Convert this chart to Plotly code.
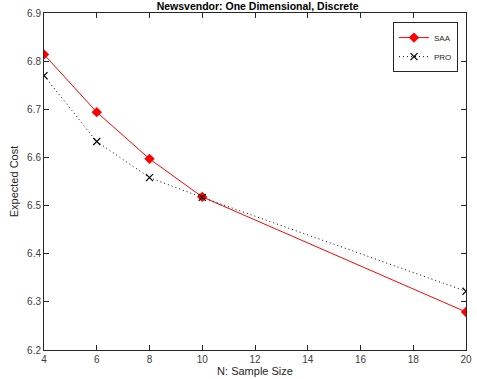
import plotly.graph_objects as go

N = [4, 6, 8, 10, 20]
saa = [6.814, 6.694, 6.597, 6.518, 6.279]
pro = [6.770, 6.633, 6.558, 6.517, 6.322]
x_ticks = [4, 6, 8, 10, 12, 14, 16, 18, 20]
y_ticks = [6.2, 6.3, 6.4, 6.5, 6.6, 6.7, 6.8, 6.9]

fig = go.Figure()
fig.add_trace(go.Scatter(x=N, y=saa, name="SAA", mode="lines+markers",
                         line=dict(color="red", width=1),
                         marker=dict(symbol="diamond", size=8, color="red")))
fig.add_trace(go.Scatter(x=N, y=pro, name="PRO", mode="lines+markers",
                         line=dict(color="black", width=1, dash="1px,3px"),
                         marker=dict(symbol="x-thin-open", size=7,
                                     line=dict(color="black", width=1.2))))

axis_common = dict(showgrid=False, zeroline=False, showline=True, linecolor="#262626",
                   linewidth=1, mirror="ticks", ticks="inside", ticklen=5,
                   tickcolor="#262626", tickfont=dict(size=10, color="#404040"),
                   ticklabeloverflow="allow")
fig.update_xaxes(range=[4, 20], tickvals=x_ticks,
                 title=dict(text="N: Sample Size", font=dict(size=11, color="#262626"), standoff=0),
                 **axis_common)
fig.update_yaxes(range=[6.2, 6.9], tickvals=y_ticks, tickformat=".1f",
                 title=dict(text="Expected Cost", font=dict(size=11, color="#262626"), standoff=6),
                 **axis_common)

fig.update_layout(
    width=477, height=379,
    margin=dict(l=44, r=5, t=13, b=29),
    paper_bgcolor="white", plot_bgcolor="white",
    font=dict(family="Liberation Sans, Arial, sans-serif", size=10, color="#262626"),
    title=dict(text="<b>Newsvendor: One Dimensional, Discrete</b>", x=0.54, xanchor="center",
               y=0.983, yanchor="middle", font=dict(size=10.5, color="black")),
    legend=dict(x=0.981, y=0.973, xanchor="right", yanchor="top",
                bgcolor="white", bordercolor="#262626", borderwidth=1,
                font=dict(size=8), tracegroupgap=0, itemwidth=30),
    showlegend=True,
)
fig.write_html("out.html")
